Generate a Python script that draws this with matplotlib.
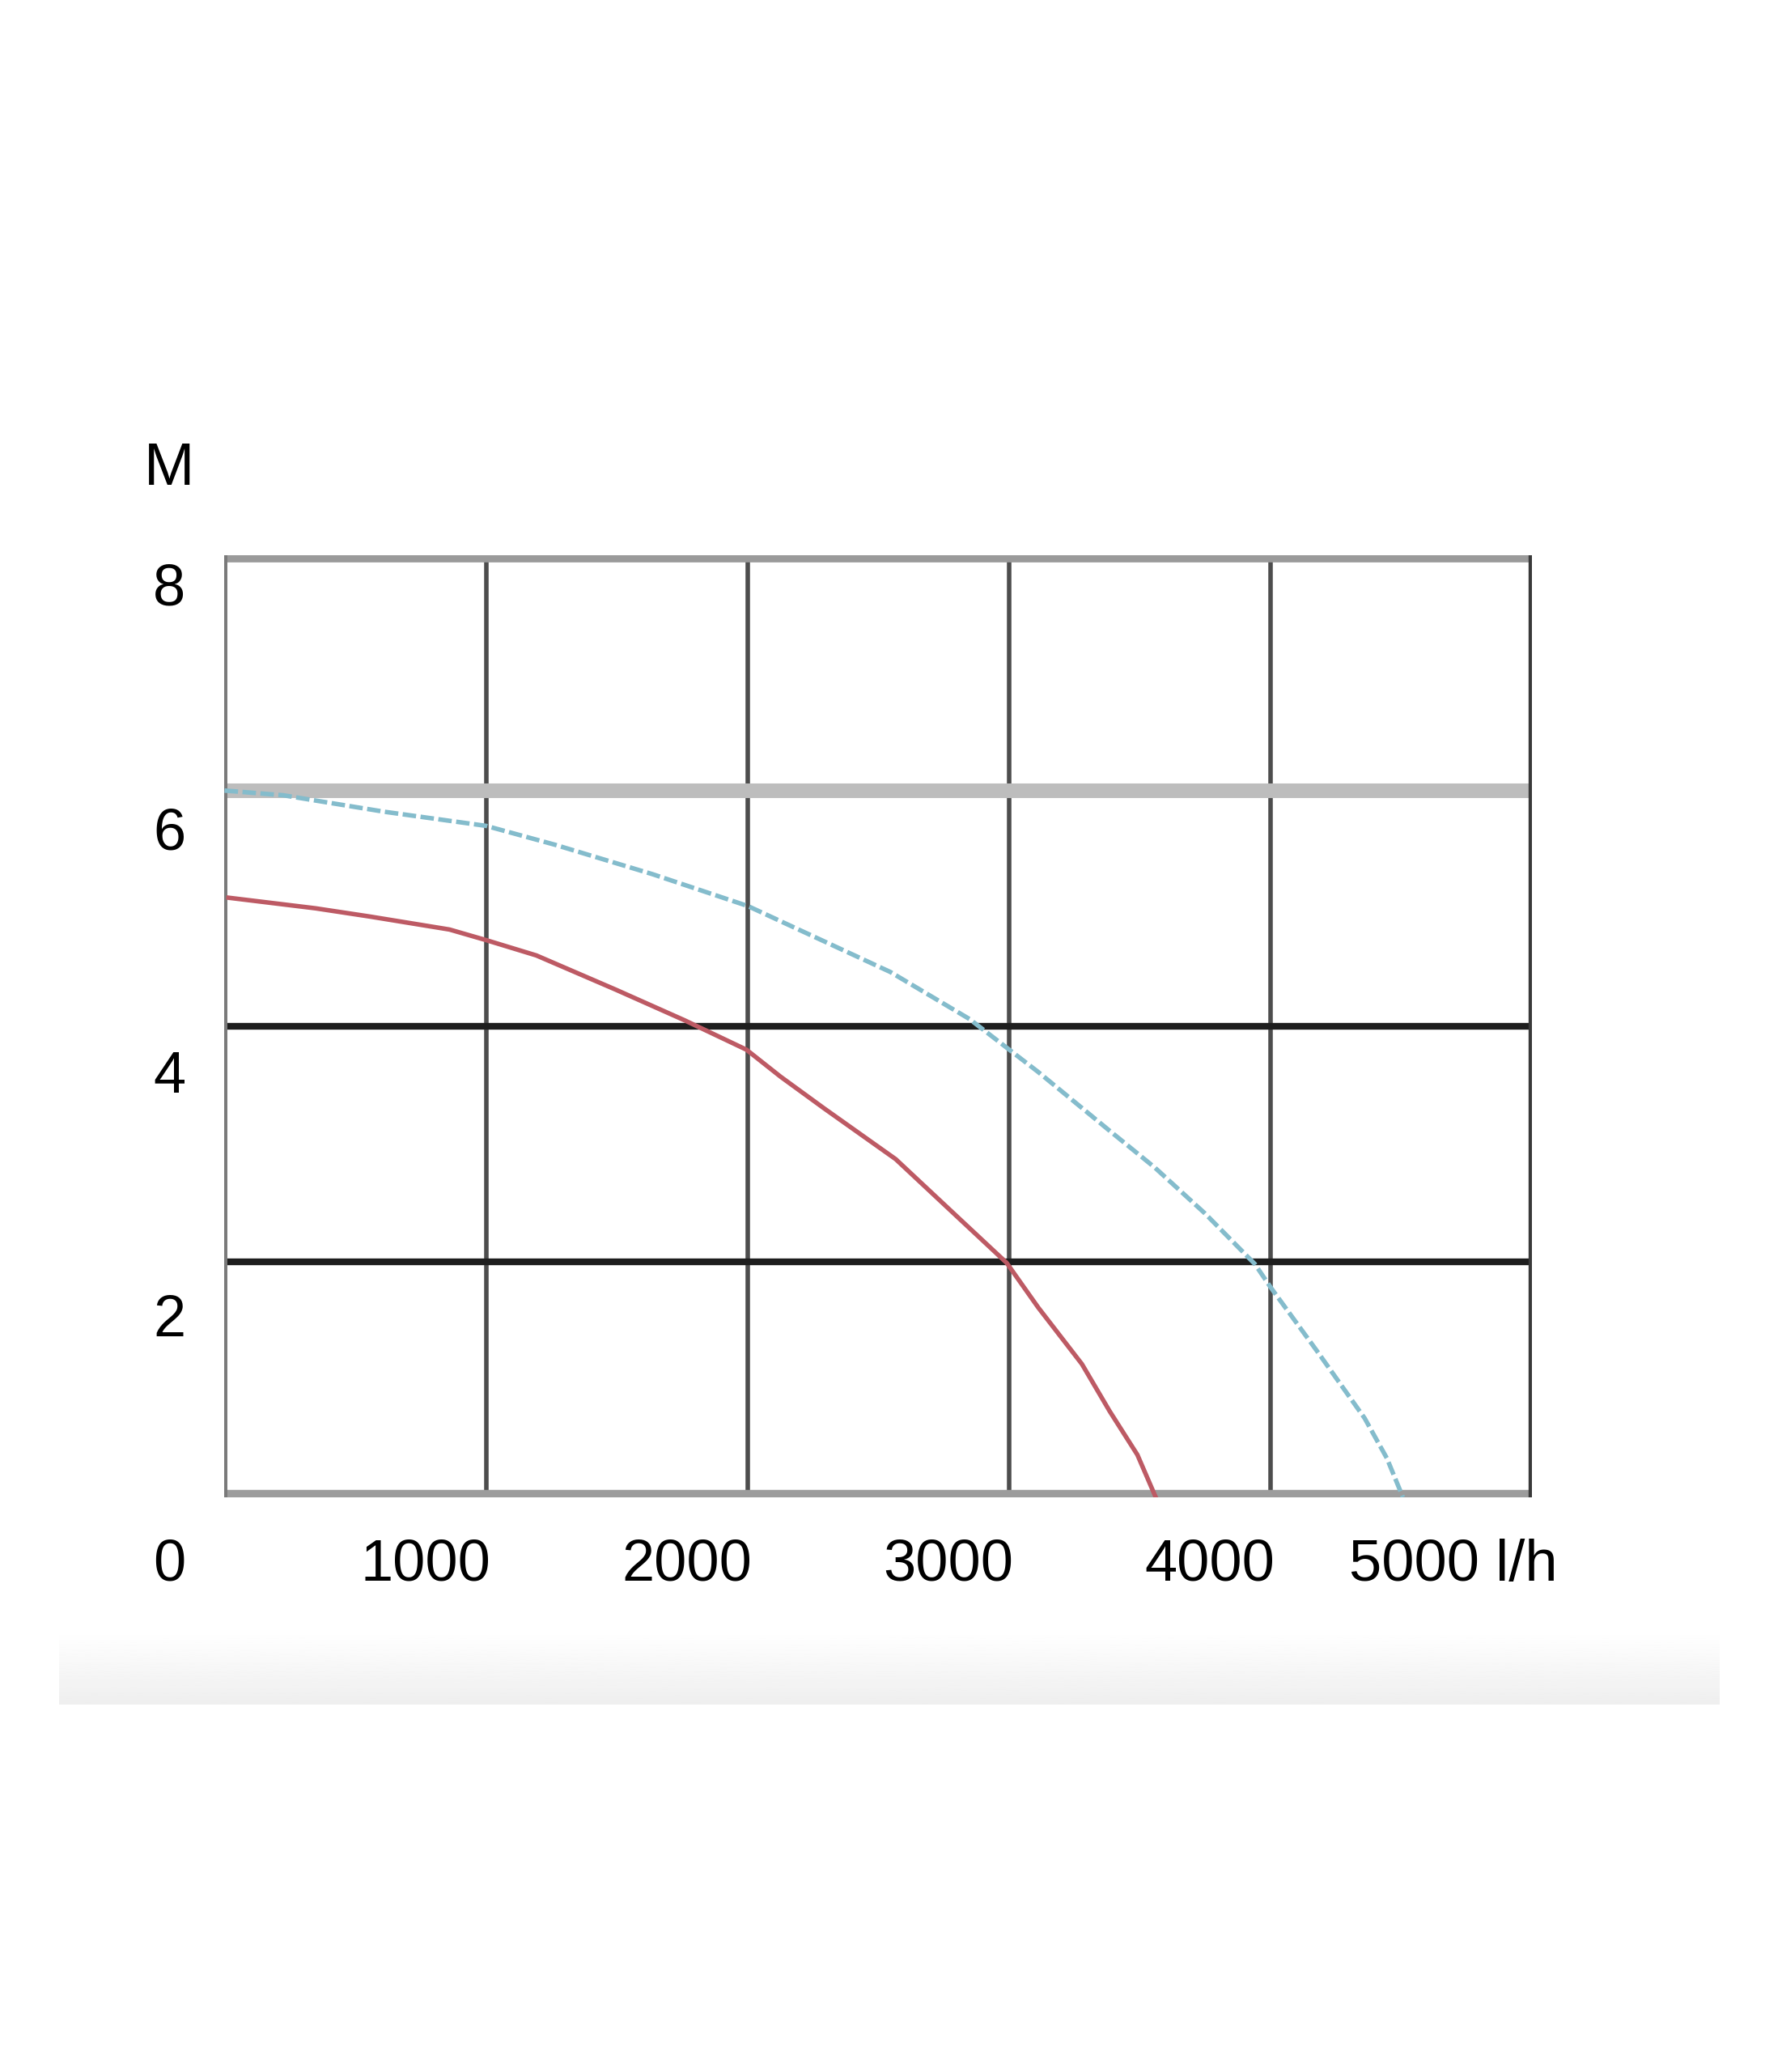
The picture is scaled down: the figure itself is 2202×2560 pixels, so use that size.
import numpy as np
import matplotlib
matplotlib.use("Agg")
import matplotlib.pyplot as plt
from matplotlib import font_manager

# pump curves: flow (l/h) vs head (M)
blue_flow = [0, 224, 611, 1000, 1263, 1636, 2000, 2545, 2848, 3111, 3379, 3556,
             3748, 3939, 4000, 4177, 4359, 4444, 4505]
blue_head = [6.0, 5.96, 5.82, 5.70, 5.54, 5.29, 5.02, 4.46, 4.06, 3.61, 3.12, 2.80,
             2.41, 1.98, 1.78, 1.24, 0.67, 0.33, 0.0]
red_flow = [15, 348, 556, 860, 1000, 1192, 1495, 1758, 1995, 2126, 2293, 2566,
            2826, 2990, 3111, 3278, 3384, 3490, 3560]
red_head = [5.09, 5.0, 4.93, 4.82, 4.73, 4.60, 4.31, 4.05, 3.80, 3.57, 3.30, 2.87,
            2.33, 1.99, 1.61, 1.13, 0.73, 0.36, 0.0]

x_ticks = [0, 1000, 2000, 3000, 4000, 5000]
x_labels = ["0", "1000", "2000", "3000", "4000", "5000 l/h"]
y_ticks = [0, 2, 4, 6, 8]
y_labels = ["0", "2", "4", "6", "8"]

names = {f.name for f in font_manager.fontManager.ttflist}
if "Liberation Sans Narrow" in names:
    font, fs = ["Liberation Sans Narrow", "DejaVu Sans"], 60
else:
    font, fs = ["Liberation Sans", "DejaVu Sans"], 52

W, H = 2202, 2560
fig = plt.figure(figsize=(W / 100, H / 100), dpi=100)
fig.patch.set_facecolor("white")

# faint grey band under the chart
band = fig.add_axes([45 / 1349, 1 - 1290 / 1568, (1302 - 45) / 1349, 55 / 1568])
grad = np.linspace(1.0, 0.935, 50).reshape(-1, 1)
band.imshow(grad, aspect="auto", cmap="gray", vmin=0, vmax=1, extent=[0, 1, 0, 1])
band.axis("off")

ax = fig.add_axes([170 / 1349, 1 - 1133 / 1568, 990 / 1349, 713 / 1568])
ax.set_xlim(0, 5000)
ax.set_ylim(0, 8)
ax.axis("off")

# grid
for x in x_ticks[1:-1]:
    ax.axvline(x, color="#4d4d4d", lw=4, zorder=1)
ax.axhline(2, color="#1e1e1e", lw=6, zorder=1)
ax.axhline(4, color="#1e1e1e", lw=6, zorder=1)
ax.axhline(6, color="#bdbdbd", lw=13, zorder=1)
# frame
ax.axhline(8, color="#9a9a9a", lw=12, zorder=1)
ax.axhline(0, color="#9c9c9c", lw=14, zorder=1)
ax.axvline(0, color="#7a7a7a", lw=5, zorder=1)
ax.axvline(5000, color="#3a3a3a", lw=6, zorder=1)

ax.plot(blue_flow, blue_head, color="#84bccc", lw=4, ls=(0, (3, 1)), zorder=3)
ax.plot(red_flow, red_head, color="#bd5a64", lw=4, zorder=3)

# labels sit a bit left / below the grid lines, like in the printed chart
for v, lab in zip(x_ticks, x_labels):
    if v == 0:
        ax.text(-212, -0.58, lab, ha="center", va="center", fontsize=fs, family=font)
    elif v == 5000:
        ax.text(4300, -0.58, lab, ha="left", va="center", fontsize=fs, family=font)
    else:
        ax.text(v - 232, -0.58, lab, ha="center", va="center", fontsize=fs, family=font)
for v, lab in zip(y_ticks[1:], y_labels[1:]):
    ax.text(-212, v - 0.3 - 0.035 * (8 - v), lab, ha="center", va="center",
            fontsize=fs, family=font)
ax.text(-212, 8.73, "M", ha="center", va="center", fontsize=fs + 2, family=font)

fig.savefig("out.png", dpi=100, facecolor="white")
